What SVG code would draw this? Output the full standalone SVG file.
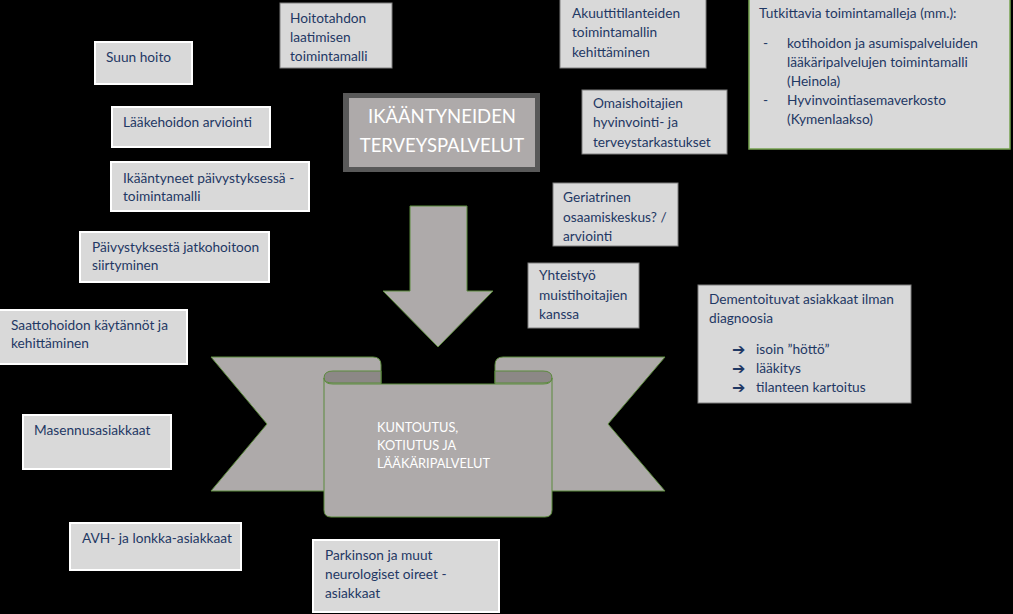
<svg xmlns="http://www.w3.org/2000/svg" width="1013" height="614" viewBox="0 0 1013 614">
<defs>
<style>
.box{fill:#d9d9d9;stroke:#ffffff;stroke-width:2}
.boxg{fill:#d9d9d9;stroke:#7f7f7f;stroke-width:1}
.boxgr{fill:#d9d9d9;stroke:#76a24f;stroke-width:1.5}
.t{font-family:Lato,"Liberation Sans",sans-serif;font-size:13.7px;fill:#1f3864}
.a{font-family:"DejaVu Sans",sans-serif;font-size:16px;font-weight:bold;fill:#1f3864}
.w{font-family:Lato,"Liberation Sans",sans-serif;font-size:12.8px;fill:#ffffff}
.title{font-family:Lato,"Liberation Sans",sans-serif;font-size:18.5px;fill:#ffffff}
.shape{fill:#aeaaaa;stroke:#5b8a3c;stroke-width:1}
.dark{fill:#8c8886;stroke:#5b8a3c;stroke-width:1}
</style>
<clipPath id="c1"><rect x="582" y="90" width="145" height="64"/></clipPath>
<clipPath id="c2"><rect x="553" y="183" width="125" height="63"/></clipPath>
</defs>
<rect x="0" y="0" width="1013" height="614" fill="#000000"/>

<g id="connectors">
<path id="arrow" class="shape" d="M410,206 L467,206 L467,291 L493,291 L438,347 L383,291 L410,291 Z"/>
</g>

<g id="ribbon">
<path class="shape" d="M211,357 L373,357 Q381,357 381,365 L381,491 L211,491 L267,424 Z"/>
<path class="shape" d="M665,357 L503,357 Q495,357 495,365 L495,491 L665,491 L608,424 Z"/>
<path class="dark" d="M324,378 Q324,371 333,371 L381,371 L381,383 L333,383 Q324,383 324,378 Z"/>
<path class="dark" d="M552,378 Q552,371 543,371 L495,371 L495,383 L543,383 Q552,383 552,378 Z"/>
<path class="shape" d="M324,378 Q324,384 333,384 L543,384 Q552,384 552,378 L552,510 Q552,517 545,517 L331,517 Q324,517 324,510 Z"/>
<text class="w" x="377" y="432">KUNTOUTUS,</text>
<text class="w" x="377" y="450">KOTIUTUS JA</text>
<text class="w" x="377" y="468">LÄÄKÄRIPALVELUT</text>
</g>

<g id="title">
<rect x="343" y="93" width="197" height="79" fill="#595959"/>
<rect x="349" y="98" width="186" height="69" fill="#aeaaaa"/>
<text class="title" x="442" y="123" text-anchor="middle">IKÄÄNTYNEIDEN</text>
<text class="title" x="442" y="152" text-anchor="middle">TERVEYSPALVELUT</text>
</g>

<g id="suun">
<rect class="box" x="95" y="42" width="97" height="42"/>
<text class="t" x="106" y="62">Suun hoito</text>
</g>
<g id="laakehoito">
<rect class="box" x="112" y="107" width="158" height="40"/>
<text class="t" x="123" y="127">Lääkehoidon arviointi</text>
</g>
<g id="paivystys">
<rect class="box" x="111" y="162" width="198" height="49"/>
<text class="t" x="123" y="183">Ikääntyneet päivystyksessä -</text>
<text class="t" x="123" y="201">toimintamalli</text>
</g>
<g id="jatkohoito">
<rect class="box" x="80" y="232" width="189" height="50"/>
<text class="t" x="92" y="252">Päivystyksestä jatkohoitoon</text>
<text class="t" x="92" y="270">siirtyminen</text>
</g>
<g id="saattohoito">
<rect class="box" x="-2" y="310" width="189" height="54"/>
<text class="t" x="11" y="330">Saattohoidon käytännöt ja</text>
<text class="t" x="11" y="348">kehittäminen</text>
</g>
<g id="masennus">
<rect class="box" x="23" y="415" width="148" height="54"/>
<text class="t" x="34" y="435">Masennusasiakkaat</text>
</g>
<g id="avh">
<rect class="box" x="70" y="523" width="171" height="47"/>
<text class="t" x="82" y="543">AVH- ja lonkka-asiakkaat</text>
</g>
<g id="parkinson">
<rect class="box" x="313" y="540" width="186" height="72"/>
<text class="t" x="325" y="560">Parkinson ja muut</text>
<text class="t" x="325" y="579">neurologiset oireet -</text>
<text class="t" x="325" y="598">asiakkaat</text>
</g>
<g id="hoitotahto">
<rect class="boxg" x="280" y="3" width="112" height="65" stroke="#bfbfbf"/>
<text class="t" x="290" y="23">Hoitotahdon</text>
<text class="t" x="290" y="42">laatimisen</text>
<text class="t" x="290" y="61">toimintamalli</text>
</g>
<g id="akuutti">
<rect class="boxg" x="560" y="-1" width="146" height="69"/>
<text class="t" x="572" y="18">Akuuttitilanteiden</text>
<text class="t" x="572" y="37">toimintamallin</text>
<text class="t" x="572" y="57">kehittäminen</text>
</g>
<g id="omaishoitajat">
<rect class="boxg" x="582" y="90" width="145" height="64"/>
<g clip-path="url(#c1)">
<text class="t" x="593" y="108">Omaishoitajien</text>
<text class="t" x="593" y="127">hyvinvointi- ja</text>
<text class="t" x="593" y="147">terveystarkastukset</text>
</g>
</g>
<g id="geriatrinen">
<rect class="boxg" x="553" y="183" width="125" height="63"/>
<g clip-path="url(#c2)">
<text class="t" x="563" y="202">Geriatrinen</text>
<text class="t" x="563" y="222">osaamiskeskus? /</text>
<text class="t" x="563" y="241">arviointi</text>
</g>
</g>
<g id="muistihoitajat">
<rect class="boxg" x="528" y="263" width="111" height="65"/>
<text class="t" x="539" y="280">Yhteistyö</text>
<text class="t" x="539" y="300">muistihoitajien</text>
<text class="t" x="539" y="319">kanssa</text>
</g>
<g id="dementoituvat">
<rect class="boxg" x="698" y="285" width="213" height="118"/>
<text class="t" x="709" y="304">Dementoituvat asiakkaat ilman</text>
<text class="t" x="709" y="323">diagnoosia</text>
<text class="a" x="732" y="355">➔</text>
<text class="t" x="756" y="354">isoin ”höttö”</text>
<text class="a" x="732" y="374">➔</text>
<text class="t" x="756" y="373">lääkitys</text>
<text class="a" x="732" y="393">➔</text>
<text class="t" x="756" y="392">tilanteen kartoitus</text>
</g>
<g id="tutkittavia">
<rect class="boxgr" x="749" y="-1" width="261" height="150"/>
<text class="t" x="759" y="18">Tutkittavia toimintamalleja (mm.):</text>
<text class="t" x="763" y="48">-</text>
<text class="t" x="787" y="48">kotihoidon ja asumispalveluiden</text>
<text class="t" x="787" y="67">lääkäripalvelujen toimintamalli</text>
<text class="t" x="787" y="86">(Heinola)</text>
<text class="t" x="763" y="105">-</text>
<text class="t" x="787" y="105">Hyvinvointiasemaverkosto</text>
<text class="t" x="787" y="124">(Kymenlaakso)</text>
</g>
</svg>
